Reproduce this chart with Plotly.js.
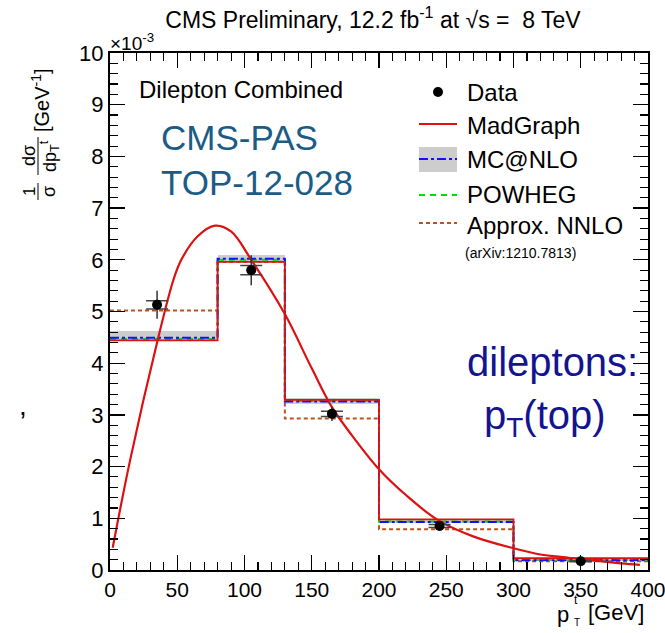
<!DOCTYPE html>
<html>
<head>
<meta charset="utf-8">
<script src="https://cdn.plot.ly/plotly-3.0.1.min.js"></script>
<style>
  html, body { margin: 0; padding: 0; background: #fff; }
  #plot { width: 665px; height: 633px; }
</style>
</head>
<body>
<div id="plot"></div>
<script>
// Normalised top-quark pT spectrum, values in units of 1e-3 GeV^-1
const binEdges = [0, 80, 130, 200, 300, 400];

const madgraphHist = [4.44, 5.96, 3.29, 0.98, 0.23];
const mcatnloHist  = [4.49, 6.02, 3.26, 0.93, 0.19];
const mcatnloLo    = [4.43, 5.96, 3.22, 0.90, 0.17];
const mcatnloHi    = [4.62, 6.09, 3.32, 0.98, 0.21];
const powhegHist   = [4.47, 6.00, 3.27, 0.94, 0.20];
const nnloHist     = [5.02, 5.96, 2.93, 0.79, 0.17];

const dataX        = [35, 105, 165, 245, 350];
const dataY        = [5.13, 5.80, 3.02, 0.85, 0.17];
const dataErrTotal = [0.27, 0.29, 0.14, 0.06, 0.03];
const dataErrStat  = [0.08, 0.09, 0.05, 0.03, 0.01];

// MadGraph smooth prediction
const curveX = [2, 15, 35, 47, 53, 65, 78, 90, 105, 130, 150, 165, 180, 200, 220, 243, 270, 300, 320, 340, 360, 380, 394];
const curveY = [0.43, 2.13, 4.40, 5.60, 6.00, 6.45, 6.66, 6.55, 6.00, 4.95, 3.90, 3.15, 2.60, 1.95, 1.45, 0.98, 0.65, 0.42, 0.30, 0.24, 0.18, 0.13, 0.10];

const xTickVals = [0, 50, 100, 150, 200, 250, 300, 350, 400];
const yTickVals = [0, 1, 2, 3, 4, 5, 6, 7, 8, 9, 10];

const FONT = 'Liberation Sans, Arial, Helvetica, sans-serif';

// plot frame in pixels
const L = 110, R = 648, T = 53, B = 570;
const px = v => (v - L) / (R - L);
const py = v => (B - v) / (B - T);

function histTrace(vals, color, dash, width) {
  return {
    type: 'scatter', mode: 'lines',
    x: binEdges, y: vals.concat([vals[vals.length - 1]]),
    line: { shape: 'hv', color: color, dash: dash, width: width },
    hoverinfo: 'skip', showlegend: false
  };
}

const centers = binEdges.slice(0, -1).map((e, i) => (e + binEdges[i + 1]) / 2);
const widths  = binEdges.slice(0, -1).map((e, i) => binEdges[i + 1] - e);

const traces = [
  {
    type: 'bar', x: centers, width: widths, base: mcatnloLo,
    y: mcatnloHi.map((h, i) => h - mcatnloLo[i]),
    marker: { color: '#cdcdcd', line: { width: 0 } },
    hoverinfo: 'skip', showlegend: false
  },
  histTrace(nnloHist, '#b8541f', '4px,3px', 2),
  histTrace(powhegHist, '#00dd00', '6px,5px', 2),
  histTrace(mcatnloHist, '#1010ff', 'dashdot', 2),
  histTrace(madgraphHist, '#dd1111', 'solid', 1.8),
  {
    type: 'scatter', mode: 'lines', x: curveX, y: curveY,
    line: { shape: 'spline', smoothing: 1, color: '#dd1111', width: 2.2 },
    hoverinfo: 'skip', showlegend: false
  },
  {
    type: 'scatter', mode: 'markers', x: dataX, y: dataY,
    marker: { color: 'rgba(0,0,0,0)', size: 1 },
    error_y: { type: 'data', array: dataErrTotal, visible: true, color: '#333', thickness: 1.5, width: 0 },
    hoverinfo: 'skip', showlegend: false
  },
  {
    type: 'scatter', mode: 'markers', x: dataX, y: dataY,
    marker: { color: '#000', size: 10 },
    error_y: { type: 'data', array: dataErrStat, visible: true, color: '#444', thickness: 1.5, width: 11 },
    hoverinfo: 'skip', showlegend: false
  }
];

// legend drawn in the upper right of the frame
const legendSymX0 = px(419), legendSymX1 = px(457);
const shapes = [
  { type: 'circle', xref: 'paper', yref: 'paper', x0: px(433), x1: px(443), y0: py(97), y1: py(87), fillcolor: '#000', line: { width: 0 } },
  { type: 'line', xref: 'paper', yref: 'paper', x0: legendSymX0, x1: legendSymX1, y0: py(124), y1: py(124), line: { color: '#dd1111', width: 2 } },
  { type: 'rect', xref: 'paper', yref: 'paper', x0: legendSymX0, x1: legendSymX1, y0: py(172), y1: py(147), fillcolor: '#cdcdcd', line: { width: 0 } },
  { type: 'line', xref: 'paper', yref: 'paper', x0: legendSymX0, x1: legendSymX1, y0: py(159), y1: py(159), line: { color: '#1010ff', width: 2, dash: 'dashdot' } },
  { type: 'line', xref: 'paper', yref: 'paper', x0: legendSymX0, x1: legendSymX1, y0: py(195), y1: py(195), line: { color: '#00dd00', width: 2, dash: '6px,5px' } },
  { type: 'line', xref: 'paper', yref: 'paper', x0: legendSymX0, x1: legendSymX1, y0: py(223), y1: py(223), line: { color: '#b8541f', width: 2, dash: '4px,3px' } },
  // fraction bars of the y-axis label
  { type: 'line', xref: 'paper', yref: 'paper', x0: px(38), x1: px(38), y0: py(137), y1: py(175), line: { color: '#000', width: 1 } },
  { type: 'line', xref: 'paper', yref: 'paper', x0: px(38), x1: px(38), y0: py(183), y1: py(200), line: { color: '#000', width: 1 } }
];

function txt(text, x, y, size, opts) {
  return Object.assign({
    text: text, xref: 'paper', yref: 'paper', x: px(x), y: py(y),
    xanchor: 'left', yanchor: 'middle', showarrow: false,
    font: { family: FONT, size: size, color: '#000' }
  }, opts || {});
}

const annotations = [
  txt('Data', 465, 92, 24),
  txt('MadGraph', 465, 125, 24),
  txt('MC@NLO', 465, 159, 24),
  txt('POWHEG', 465, 194, 24),
  txt('Approx. NNLO', 465, 225, 24),
  txt('(arXiv:1210.7813)', 463, 253, 14),
  txt('Dilepton Combined', 137, 89, 24),
  txt('CMS-PAS', 159, 137, 35, { font: { family: FONT, size: 35, color: '#1b5c86' } }),
  txt('TOP-12-028', 159, 183, 35, { font: { family: FONT, size: 35, color: '#1b5c86' } }),
  txt('dileptons:', 640, 362, 40, { xanchor: 'right', font: { family: FONT, size: 40, color: '#14148f' } }),
  txt('p<sub>T</sub>(top)', 545, 418, 40, { xanchor: 'center', font: { family: FONT, size: 40, color: '#14148f' } }),
  txt('×10<sup>-3</sup>', 108, 42, 19),
  txt(',', 17, 405, 28),
  // x-axis title
  txt('[GeV]', 646, 612, 22, { xanchor: 'right' }),
  txt('p', 571, 614, 22, { xanchor: 'right' }),
  txt('t', 572, 600, 12),
  txt('T', 572, 622, 10),
  // y-axis title, rotated
  txt('[GeV<sup>-1</sup>]', 40, 100, 20, { xanchor: 'center', textangle: -90 }),
  txt('dσ', 29, 156, 18, { xanchor: 'center', textangle: -90 }),
  txt('dp<sub>T</sub><sup>t</sup>', 49, 156, 18, { xanchor: 'center', textangle: -90 }),
  txt('1', 29, 192, 17, { xanchor: 'center', textangle: -90 }),
  txt('σ', 49, 192, 18, { xanchor: 'center', textangle: -90 })
];

const axisCommon = {
  showline: true, linecolor: '#000', linewidth: 2, mirror: 'allticks',
  ticks: 'inside', ticklen: 15, tickwidth: 1.3, tickcolor: '#000',
  showgrid: false, zeroline: false, fixedrange: true,
  ticklabeloverflow: 'allow',
  tickfont: { family: FONT, size: 22, color: '#000' }
};

const layout = {
  width: 665, height: 633,
  margin: { l: L, r: 665 - R, t: T, b: 633 - B, pad: 0 },
  paper_bgcolor: '#fff', plot_bgcolor: '#fff',
  showlegend: false, barmode: 'overlay', bargap: 0,
  title: {
    text: 'CMS Preliminary, 12.2 fb<sup>-1</sup> at √s =  8 TeV',
    font: { family: FONT, size: 23, color: '#000' },
    xref: 'paper', x: px(373), xanchor: 'center',
    yref: 'container', y: 1 - 20 / 633, yanchor: 'middle'
  },
  xaxis: Object.assign({}, axisCommon, {
    range: [0, 400], tickmode: 'array', tickvals: xTickVals, ticktext: xTickVals.map(String),
    tickfont: { family: FONT, size: 21, color: '#000' },
    minor: { dtick: 10, ticklen: 8, tickwidth: 1.1, tickcolor: '#000', ticks: 'inside' }
  }),
  yaxis: Object.assign({}, axisCommon, {
    range: [0, 10], tickmode: 'array', tickvals: yTickVals, ticktext: yTickVals.map(String),
    minor: { dtick: 0.2, ticklen: 8, tickwidth: 1.1, tickcolor: '#000', ticks: 'inside' }
  }),
  shapes: shapes,
  annotations: annotations
};

Plotly.newPlot('plot', traces, layout, { staticPlot: true, displayModeBar: false });
</script>
</body>
</html>
